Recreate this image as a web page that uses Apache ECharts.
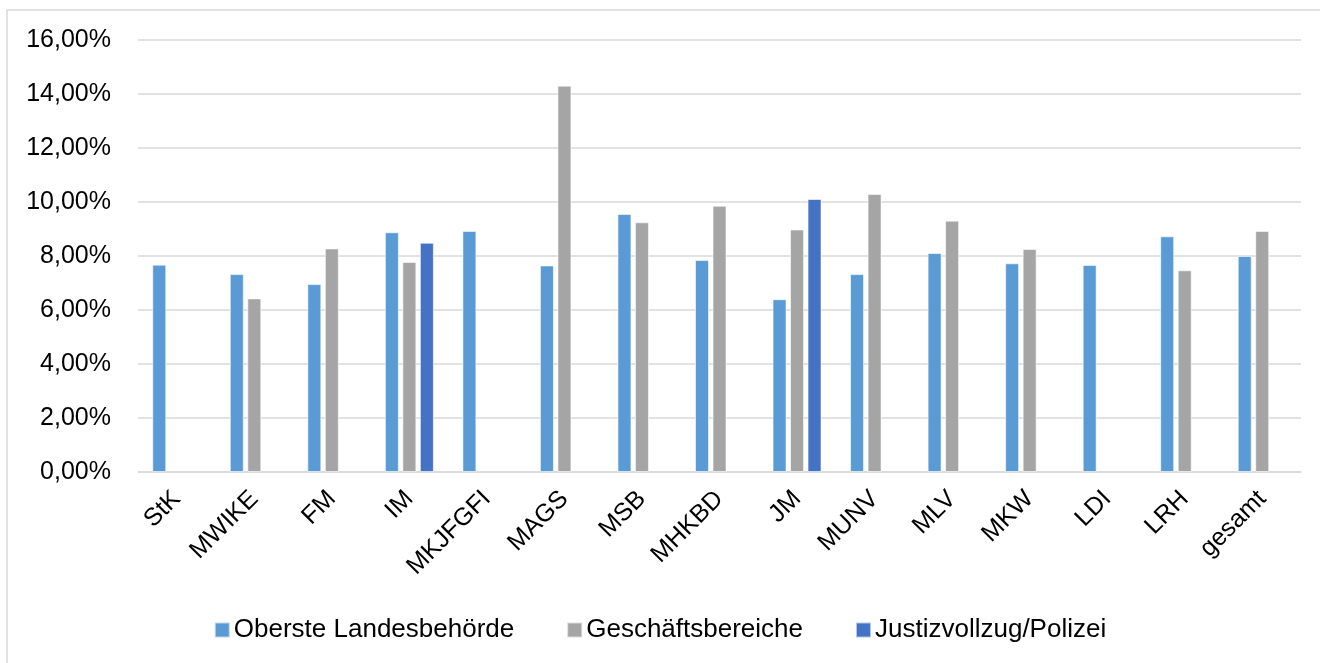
<!DOCTYPE html>
<html>
<head>
<meta charset="utf-8">
<script src="https://cdn.jsdelivr.net/npm/echarts@6/dist/echarts.min.js"></script>
<style>
  html, body { margin: 0; padding: 0; background: #fff; }
  #chart { width: 1320px; height: 663px; }
</style>
</head>
<body>
<div id="chart"></div>
<script>
const categories = ['StK', 'MWIKE', 'FM', 'IM', 'MKJFGFI', 'MAGS', 'MSB', 'MHKBD', 'JM', 'MUNV', 'MLV', 'MKW', 'LDI', 'LRH', 'gesamt']
// Werte in Prozent
const obersteLandesbehoerde = [7.68, 7.33, 6.96, 8.88, 8.93, 7.65, 9.56, 7.85, 6.40, 7.33, 8.11, 7.73, 7.67, 8.73, 8.00]
const geschaeftsbereiche = [null, 6.43, 8.28, 7.78, null, 14.31, 9.25, 9.86, 8.98, 10.30, 9.31, 8.26, null, 7.47, 8.93]
const justizvollzugPolizei = [null, null, null, 8.49, null, null, null, null, 10.11, null, null, null, null, null, null]
const yTicks = { min: 0, max: 16, interval: 2 }

const chart = echarts.init(document.getElementById('chart'))

const barStyle = color => ({ color: color, borderColor: 'rgba(255,255,255,0.6)', borderWidth: 1 })

chart.setOption({
  backgroundColor: '#fff',
  textStyle: { fontFamily: 'Liberation Sans, Arial, sans-serif' },
  graphic: [{
    type: 'rect',
    shape: { x: 7, y: 10, width: 1330, height: 670 },
    style: { fill: 'none', stroke: '#d9d9d9', lineWidth: 1.5 },
    silent: true
  }],
  grid: { left: 138, right: 19, top: 40, bottom: 191 },
  legend: {
    bottom: 15,
    left: 'center',
    icon: 'rect',
    itemWidth: 15,
    itemHeight: 15,
    itemGap: 52,
    textStyle: { fontSize: 26, color: '#000', padding: [0, 0, 0, -1] },
    data: ['Oberste Landesbehörde', 'Geschäftsbereiche', 'Justizvollzug/Polizei']
  },
  xAxis: {
    type: 'category',
    data: categories,
    axisLine: { lineStyle: { color: '#d9d9d9', width: 1.5 } },
    axisTick: { show: false },
    axisLabel: { rotate: 45, fontSize: 25, color: '#000', margin: 23, interval: 0 }
  },
  yAxis: {
    type: 'value',
    min: yTicks.min,
    max: yTicks.max,
    interval: yTicks.interval,
    axisLine: { show: false },
    axisTick: { show: false },
    splitLine: { lineStyle: { color: '#d9d9d9', width: 1.5 } },
    axisLabel: {
      fontSize: 25,
      color: '#000',
      margin: 27,
      formatter: v => v.toFixed(2).replace('.', ',') + '%'
    }
  },
  series: [
    {
      name: 'Oberste Landesbehörde',
      type: 'bar',
      data: obersteLandesbehoerde,
      barWidth: 14,
      barGap: '25%',
      itemStyle: barStyle('#5b9bd5')
    },
    {
      name: 'Geschäftsbereiche',
      type: 'bar',
      data: geschaeftsbereiche,
      barWidth: 14,
      barGap: '25%',
      itemStyle: barStyle('#a5a5a5')
    },
    {
      name: 'Justizvollzug/Polizei',
      type: 'bar',
      data: justizvollzugPolizei,
      barWidth: 14,
      barGap: '25%',
      itemStyle: barStyle('#4472c4')
    }
  ]
})
</script>
</body>
</html>
